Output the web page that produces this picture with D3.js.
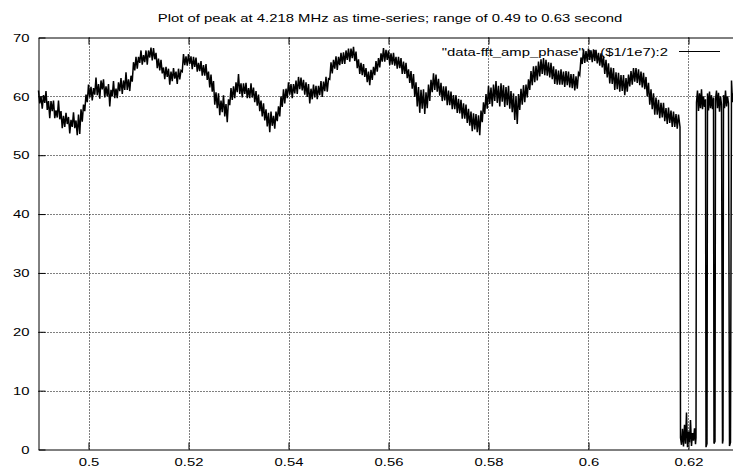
<!DOCTYPE html>
<html>
<head>
<meta charset="utf-8">
<script src="https://cdn.jsdelivr.net/npm/d3@7"></script>
<style>
body { margin: 0; background: #fff; }
svg text { font-family: "Liberation Sans", Arial, Helvetica, sans-serif; font-size: 11.6px; fill: #000; }
</style>
</head>
<body>
<script>
"use strict"
const w = 733;
const h = 472;
const stretch = 1.28; // the text in the original is drawn wide

const chartTitle = "Plot of peak at 4.218 MHz as time-series; range of 0.49 to 0.63 second";
const keyLabel = '"data-fft_amp_phase" u ($1/1e7):2';

const xTicks = [0.5, 0.52, 0.54, 0.56, 0.58, 0.6, 0.62];
const yTicks = [0, 10, 20, 30, 40, 50, 60, 70];

// main part of the trace, one sample every 0.00025 s from 0.49
const mainStart = 0.49;
const mainStep = 0.00025;
const mainValues = [
	61.0, 58.8, 60.0, 57.9, 60.2, 58.9, 60.9, 57.7, 59.2, 56.3,
	59.2, 57.5, 59.3, 56.3, 57.6, 56.4, 59.3, 56.1, 57.5, 54.6,
	56.7, 54.8, 57.2, 55.3, 56.5, 53.7, 56.0, 54.8, 57.3, 54.6,
	55.9, 53.4, 56.9, 53.6, 57.8, 55.7, 58.6, 57.5, 60.3, 59.0,
	62.0, 59.8, 61.6, 59.3, 61.4, 60.3, 63.2, 60.2, 62.1, 59.6,
	62.7, 61.2, 62.9, 59.8, 61.7, 60.0, 62.1, 58.3, 61.1, 60.0,
	62.6, 59.7, 61.3, 59.7, 62.4, 60.9, 63.1, 60.4, 62.7, 61.1,
	64.1, 61.1, 62.9, 60.9, 63.5, 62.5, 65.8, 64.4, 66.7, 64.7,
	66.7, 65.7, 67.8, 65.4, 67.0, 65.8, 67.8, 65.4, 67.8, 66.6,
	68.3, 66.1, 68.2, 66.3, 67.4, 64.8, 66.4, 64.4, 66.2, 63.9,
	64.9, 62.9, 65.0, 63.3, 64.7, 62.0, 64.2, 62.6, 64.8, 63.0,
	64.2, 62.1, 64.7, 62.9, 64.4, 64.2, 67.2, 65.3, 66.8, 65.2,
	67.2, 65.5, 66.8, 64.6, 66.7, 65.0, 66.6, 64.2, 65.7, 64.3,
	66.0, 63.5, 65.3, 63.5, 65.5, 62.8, 64.2, 61.5, 63.7, 60.8,
	62.6, 58.6, 60.7, 58.0, 60.5, 56.8, 59.3, 57.3, 60.2, 56.6,
	58.7, 55.6, 59.5, 58.5, 61.4, 59.4, 61.7, 59.7, 62.4, 60.7,
	63.8, 60.4, 62.2, 59.8, 62.2, 60.4, 62.3, 59.7, 61.4, 59.7,
	62.2, 59.8, 61.5, 59.0, 60.9, 58.4, 60.3, 57.5, 59.3, 56.6,
	58.8, 55.9, 57.8, 54.9, 57.2, 53.9, 57.4, 55.0, 56.7, 54.5,
	57.4, 55.8, 58.3, 56.6, 60.0, 58.2, 61.2, 58.8, 61.3, 59.7,
	62.4, 60.3, 62.1, 59.7, 62.1, 60.5, 62.7, 60.4, 63.3, 61.2,
	63.2, 61.0, 62.8, 60.3, 62.4, 59.9, 62.1, 58.8, 61.3, 59.5,
	62.0, 59.8, 61.8, 59.5, 61.8, 60.2, 62.6, 59.9, 62.5, 60.9,
	63.3, 60.8, 63.0, 62.9, 65.8, 63.9, 66.2, 64.7, 66.8, 64.5,
	66.7, 65.3, 67.4, 65.5, 67.5, 65.5, 67.8, 66.2, 68.1, 65.9,
	68.1, 66.5, 68.4, 66.0, 67.6, 64.8, 66.3, 63.8, 65.7, 63.6,
	65.5, 63.3, 64.8, 62.4, 64.2, 61.9, 64.5, 62.8, 65.0, 63.6,
	66.0, 64.2, 66.5, 64.9, 67.3, 65.9, 68.2, 65.9, 67.9, 66.2,
	67.8, 65.3, 67.3, 65.4, 67.4, 65.2, 66.7, 64.7, 66.7, 64.8,
	66.5, 63.8, 65.9, 63.8, 65.7, 63.1, 64.6, 62.3, 64.3, 61.3,
	63.8, 59.9, 62.4, 58.3, 61.6, 57.2, 61.1, 57.9, 61.2, 57.0,
	60.7, 58.0, 62.0, 59.2, 62.8, 60.7, 63.9, 61.1, 63.7, 60.8,
	63.0, 60.1, 62.3, 59.2, 61.7, 59.3, 61.7, 58.5, 61.0, 58.5,
	60.8, 57.8, 60.2, 57.8, 60.2, 57.2, 59.6, 57.1, 59.4, 56.2,
	58.8, 56.2, 58.6, 55.5, 57.9, 55.0, 57.4, 54.1, 57.1, 54.4,
	57.0, 53.9, 56.8, 53.4, 57.6, 55.6, 59.0, 57.0, 60.4, 57.9,
	61.8, 58.7, 61.5, 58.3, 62.0, 59.2, 62.6, 58.9, 61.8, 58.3,
	62.2, 59.1, 61.9, 58.2, 61.6, 58.5, 61.8, 57.9, 60.9, 57.3,
	60.5, 56.0, 60.0, 55.3, 60.4, 57.7, 61.3, 58.6, 61.9, 59.0,
	62.0, 59.8, 62.9, 61.1, 64.3, 61.9, 65.1, 62.4, 65.2, 62.7,
	65.9, 63.4, 66.3, 63.8, 66.5, 63.6, 66.2, 63.5, 65.8, 63.2,
	65.7, 62.9, 65.1, 62.1, 64.6, 62.0, 64.4, 62.0, 64.6, 62.0,
	64.2, 61.6, 64.3, 61.9, 64.2, 61.5, 63.8, 61.4, 63.8, 61.0,
	63.4, 61.3, 64.0, 63.6, 66.6, 65.5, 68.0, 65.7, 67.7, 65.9,
	68.1, 66.2, 67.8, 65.8, 68.0, 66.0, 67.9, 65.6, 67.4, 65.2,
	67.3, 64.9, 66.9, 63.8, 66.2, 63.2, 65.6, 62.2, 64.9, 62.1,
	64.8, 61.1, 64.1, 61.2, 64.0, 60.8, 63.6, 60.9, 63.6, 60.2,
	63.1, 60.8, 63.7, 61.7, 64.3, 62.0, 64.8, 62.5, 64.8, 62.3,
	64.6, 61.9, 64.2, 61.5, 64.0, 61.2, 63.3, 60.0, 62.3, 58.6,
	61.2, 57.8, 60.5, 56.9, 59.8, 56.9, 59.4, 56.3, 58.9, 56.4,
	58.9, 55.8, 58.0, 55.3, 58.1, 55.5, 57.6, 54.8, 57.4, 54.8,
	57.0, 54.5, 56.9
];

// the end of the record, where the peak drops out and comes back
const tailTimes = [
	0.6182, 0.6183, 0.6184, 0.6186, 0.6188, 0.6190, 0.6192, 0.6194, 0.6196, 0.6198,
	0.6200, 0.6202, 0.6204, 0.6206, 0.6208, 0.6210, 0.6212, 0.6214, 0.6215, 0.6216,
	0.6218, 0.6220, 0.6222, 0.6224, 0.6226, 0.6228, 0.6230, 0.6232, 0.6234, 0.6235,
	0.6237, 0.6238, 0.6240, 0.6242, 0.6244, 0.6246, 0.6248, 0.6250, 0.6251, 0.6253,
	0.6254, 0.6256, 0.6258, 0.6260, 0.6262, 0.6264, 0.6266, 0.6268, 0.6269, 0.6270,
	0.6272, 0.6274, 0.6276, 0.6278, 0.6280, 0.6282, 0.6284, 0.6286, 0.6288, 0.6290,
	0.6295, 0.6300
];
const tailValues = [
	55.5, 54.8, 2.0, 0.8, 3.5, 0.5, 4.2, 1.0, 6.3, 0.4,
	3.0, 1.2, 5.0, 0.6, 2.8, 1.5, 3.6, 0.9, 2.0, 59.0,
	61.0, 57.5, 60.5, 58.0, 61.2, 57.8, 60.0, 58.2, 59.5, 0.4,
	1.0, 60.5, 57.6, 60.8, 58.0, 60.2, 57.8, 59.8, 1.0, 1.4,
	59.5, 61.0, 58.0, 60.6, 57.4, 60.0, 58.6, 1.0, 1.6, 60.2,
	58.0, 61.0, 58.3, 60.0, 58.8, 0.6, 1.2, 62.7, 59.0, 60.5,
	58.5, 60.0
];

const series = mainValues.map((v, i) => [mainStart + i * mainStep, v])
	.concat(tailTimes.map((t, i) => [t, tailValues[i]]));

const plotLeft = 38.5, plotRight = 738.5, plotTop = 37.5, plotBottom = 449.5;

const svg = d3.select('body')
	.append('svg')
	.attr('width', w)
	.attr('height', h)
	.style('display', 'block');

const xScale = d3.scaleLinear().domain([0.49, 0.63]).range([plotLeft, plotRight]);
const yScale = d3.scaleLinear().domain([0, 70]).range([plotBottom, plotTop]);

// title, centred over the plot area
svg.append('text')
	.attr('transform', 'translate(390,21.5) scale(' + stretch + ',1)')
	.attr('text-anchor', 'middle')
	.text(chartTitle);

// dotted grid
const grid = svg.append('g')
	.attr('stroke', '#000')
	.attr('stroke-width', 1)
	.attr('stroke-dasharray', '1,2')
	.attr('fill', 'none');

grid.selectAll('line.gx')
	.data(xTicks)
	.enter()
	.append('line')
	.attr('x1', d => Math.round(xScale(d)) + 0.5)
	.attr('x2', d => Math.round(xScale(d)) + 0.5)
	.attr('y1', plotTop)
	.attr('y2', plotBottom);

grid.selectAll('line.gy')
	.data(yTicks.filter(d => d > 0 && d < 70))
	.enter()
	.append('line')
	.attr('x1', plotLeft)
	.attr('x2', w)
	.attr('y1', d => Math.round(yScale(d)) + 0.5)
	.attr('y2', d => Math.round(yScale(d)) + 0.5);

// axes, ticks pointing inwards
const xAxis = d3.axisBottom(xScale)
	.tickValues(xTicks)
	.tickSizeInner(-7)
	.tickSizeOuter(0)
	.tickPadding(8)
	.tickFormat(d3.format('~g'));

const xAxisTop = d3.axisTop(xScale)
	.tickValues(xTicks)
	.tickSizeInner(-7)
	.tickSizeOuter(0)
	.tickFormat('');

const yAxis = d3.axisLeft(yScale)
	.tickValues(yTicks)
	.tickSizeInner(-7)
	.tickSizeOuter(0)
	.tickPadding(7);

svg.append('g')
	.attr('transform', 'translate(0,' + plotBottom + ')')
	.call(xAxis);

svg.append('g')
	.attr('transform', 'translate(0,' + plotTop + ')')
	.call(xAxisTop);

svg.append('g')
	.attr('transform', 'translate(' + plotLeft + ',0)')
	.call(yAxis);

svg.selectAll('.domain').attr('stroke', '#000');
svg.selectAll('.tick line').attr('stroke', '#000');
svg.selectAll('.tick text')
	.attr('font-family', null)
	.attr('font-size', null)
	.attr('fill', '#000')
	.attr('transform', 'scale(' + stretch + ',1)');

// key
svg.append('text')
	.attr('transform', 'translate(668,55.5) scale(' + stretch + ',1)')
	.attr('text-anchor', 'end')
	.text(keyLabel);

svg.append('line')
	.attr('x1', 679)
	.attr('x2', 720)
	.attr('y1', 51.5)
	.attr('y2', 51.5)
	.attr('stroke', '#000')
	.attr('stroke-width', 1);

// trace
const line = d3.line()
	.x(d => xScale(d[0]))
	.y(d => yScale(d[1]));

svg.append('path')
	.datum(series)
	.attr('d', line)
	.attr('fill', 'none')
	.attr('stroke', '#000')
	.attr('stroke-width', 1.5);
</script>
</body>
</html>
